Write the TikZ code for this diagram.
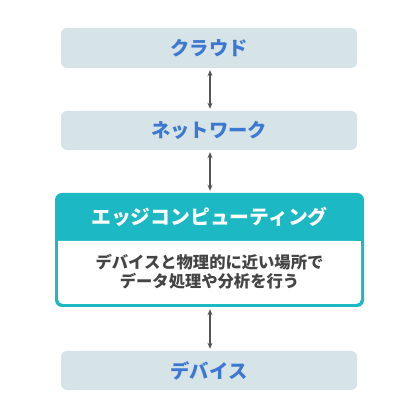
\documentclass[tikz,border=0pt]{standalone}
\usepackage{fontspec}
\setmainfont{Noto Sans CJK JP}
\usetikzlibrary{arrows.meta}
\definecolor{boxbg}{HTML}{D6E3E7}
\definecolor{boxtxt}{HTML}{3C78D2}
\definecolor{teal}{HTML}{1CB8C3}
\definecolor{arr}{HTML}{555555}
\definecolor{bodytxt}{HTML}{444444}
\tikzset{
  layer/.style={fill=boxbg, rounded corners=6pt, minimum width=296pt, minimum height=40pt,
    text=boxtxt, font=\fontsize{19.3}{22}\selectfont\bfseries, inner sep=0pt},
  link/.style={draw=arr, line width=1.2pt, {Stealth[length=6pt,width=5pt]}-{Stealth[length=6pt,width=5pt]}}
}
\begin{document}
\begin{tikzpicture}[x=1pt,y=1pt]
\useasboundingbox[fill=white] (0,0) rectangle (419,419);
\node[layer] (cloud) at (209,371) {クラウド};
\node[layer, minimum height=39pt] (net) at (209,288.5) {ネットワーク};
\node[layer, minimum height=39pt] (dev) at (209,48.5) {デバイス};
% edge computing box
\node[fill=teal, rounded corners=7pt, minimum width=309pt, minimum height=114pt, inner sep=0pt] (edge) at (209.5,169) {};
\fill[white, rounded corners=5pt] (58,178) -- (58,115) -- (361,115) -- (361,178) [sharp corners] -- cycle;
\fill[white] (58,178) rectangle (361,170);
\node[text=white, font=\fontsize{19.8}{22}\selectfont\bfseries] (edgetitle) at (209.5,202) {エッジコンピューティング};
\node[text=bodytxt, font=\fontsize{16.3}{19}\selectfont\bfseries, align=center] (edgebody) at (209.5,147.5) {デバイスと物理的に近い場所で\\データ処理や分析を行う};
\draw[link] ([xshift=1pt,yshift=-2pt]cloud.south) -- ([xshift=1pt,yshift=2pt]net.north);
\draw[link] ([xshift=1pt,yshift=-2pt]net.south) -- ([xshift=0.5pt,yshift=2pt]edge.north);
\draw[link] ([xshift=0.5pt,yshift=-2pt]edge.south) -- ([xshift=1pt,yshift=2pt]dev.north);
\end{tikzpicture}
\end{document}
